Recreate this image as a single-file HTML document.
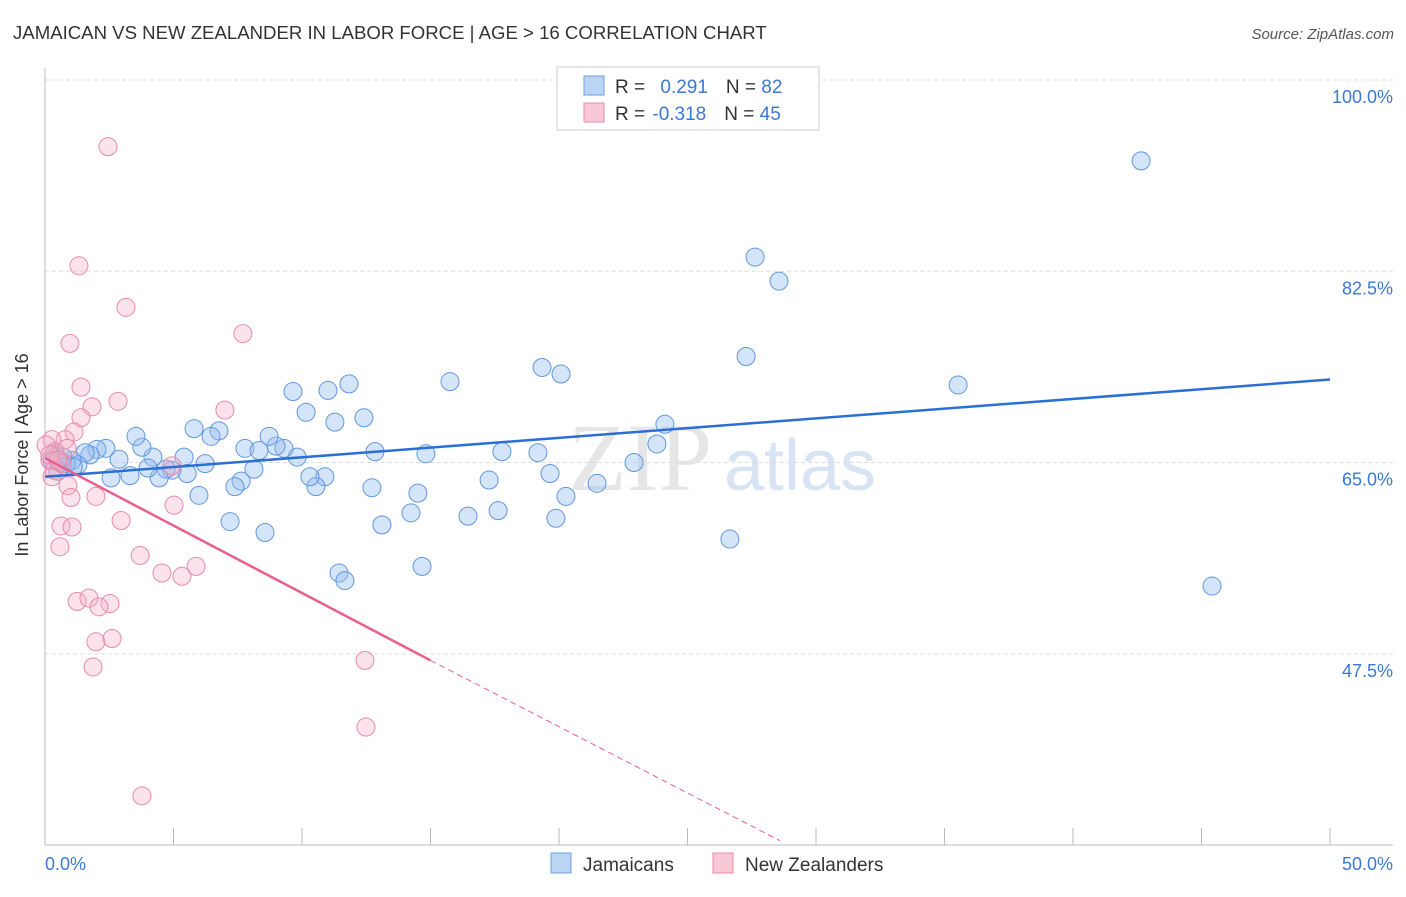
<!DOCTYPE html>
<html><head><meta charset="utf-8"><style>
body{margin:0;background:#fff;font-family:"Liberation Sans",sans-serif;}
</style></head><body>
<svg id="chart" width="1406" height="892" xmlns="http://www.w3.org/2000/svg" font-family="Liberation Sans, sans-serif">
<text x="13" y="39" font-size="18.6" fill="#333">JAMAICAN VS NEW ZEALANDER IN LABOR FORCE | AGE &gt; 16 CORRELATION CHART</text>
<text x="1394" y="39" font-size="15" fill="#555" font-style="italic" text-anchor="end">Source: ZipAtlas.com</text>
<text x="640" y="490" font-size="96" fill="#e6e6e6" font-family="Liberation Serif, serif" text-anchor="middle">ZIP</text>
<text x="800" y="490" font-size="72" fill="#d8e4f4" text-anchor="middle">atlas</text>
<g id="grid"></g>
<g id="axes"></g>
<g id="pts"></g>
<g id="lines"></g>
<text x="28" y="455" font-size="18" fill="#333" transform="rotate(-90 28 455)" text-anchor="middle">In Labor Force | Age &gt; 16</text>
<text x="45" y="870" font-size="18" fill="#3a78d4">0.0%</text>
<text x="1393" y="870" font-size="18" fill="#3a78d4" text-anchor="end">50.0%</text>
<g>
<rect x="557" y="67" width="262" height="63" fill="#fff" stroke="#ccc"/>
<rect x="584" y="76" width="20" height="19" fill="#bcd4f4" stroke="#6a9fe0"/>
<rect x="584" y="103" width="20" height="19" fill="#f8c8d6" stroke="#e88aa8"/>
<text x="615" y="93" font-size="19" fill="#333">R = <tspan fill="#3a78d4" dx="10">0.291</tspan><tspan dx="18">N = </tspan><tspan fill="#3a78d4">82</tspan></text>
<text x="615" y="120" font-size="19" fill="#333">R = <tspan fill="#3a78d4" dx="2">-0.318</tspan><tspan dx="18">N = </tspan><tspan fill="#3a78d4">45</tspan></text>
</g>
<g>
<rect x="551" y="853" width="20" height="20" fill="#bcd4f4" stroke="#6a9fe0"/>
<text x="583" y="871" font-size="19" fill="#333">Jamaicans</text>
<rect x="713" y="853" width="20" height="20" fill="#f8c8d6" stroke="#e88aa8"/>
<text x="745" y="871" font-size="19" fill="#333">New Zealanders</text>
</g>
</svg>
<script>
const yTicks=[100,82.5,65,47.5];
const xTicks=[0,5,10,15,20,25,30,35,40,45,50];
const blueX=[42.65,27.63,28.56,27.28,35.53,19.34,20.08,15.76,11.83,11.01,9.65,10.16,11.28,12.41,24.12,23.81,22.92,19.65,20.27,21.48,19.18,17.78,17.28,17.63,16.46,19.88,14.82,14.51,14.24,14.67,13.11,12.84,12.72,11.44,11.67,10.89,10.54,10.31,9.81,9.30,8.99,8.72,7.78,8.33,8.13,7.63,7.39,7.20,8.56,6.77,6.46,5.80,6.23,5.99,5.41,5.53,4.94,4.71,4.44,4.20,4.01,3.77,3.54,3.31,2.88,2.57,2.37,2.02,1.75,1.56,1.28,1.05,0.82,0.58,0.43,0.27,45.41,26.65,0.35,0.7,1.1,0.5];
const blueY=[92.6,83.8,81.6,74.7,72.1,73.7,73.1,72.4,72.2,71.6,71.5,69.6,68.7,69.1,68.5,66.7,65.0,64.0,61.9,63.1,65.9,66.0,63.4,60.6,60.1,59.9,65.8,62.2,60.4,55.5,59.3,66.0,62.7,54.9,54.2,63.7,62.8,63.7,65.5,66.3,66.5,67.4,66.3,66.1,64.4,63.3,62.8,59.6,58.6,67.9,67.4,68.1,64.9,62.0,65.5,64.0,64.3,64.4,63.6,65.5,64.5,66.4,67.4,63.8,65.3,63.6,66.3,66.2,65.7,65.9,64.8,65.2,64.9,65.0,65.6,65.2,53.7,58.0,65.8,65.5,64.6,64.2];
const pinkX=[2.45,1.32,3.15,7.70,0.97,1.40,2.84,1.83,7.00,1.40,1.13,0.78,0.86,0.27,0.39,0.19,0.35,0.27,0.66,0.89,1.01,1.98,0.62,1.05,2.96,0.58,3.70,5.88,4.55,5.33,1.25,1.71,2.53,2.10,1.98,2.61,1.87,12.45,12.49,3.77,5.02,4.94,0.04,0.19,0.51];
const pinkY=[93.9,83.0,79.2,76.8,75.9,71.9,70.6,70.1,69.8,69.1,67.8,67.1,66.3,67.1,66.0,65.2,64.3,63.7,64.9,62.9,61.8,61.9,59.2,59.1,59.7,57.3,56.5,55.5,54.9,54.6,52.3,52.6,52.1,51.8,48.6,48.9,46.3,46.9,40.8,34.5,61.1,64.7,66.6,65.7,65.2];
const blueTrendX=[0,50];
const blueTrendY=[63.7,72.6];
const pinkTrendX=[0,15,28.6];
const pinkTrendY=[65.4,46.9,30.4];
const NS='http://www.w3.org/2000/svg';
const X=v=>45+v*25.7;
const Y=v=>80+(100-v)*10.93;
function mk(tag,attrs,parent){const e=document.createElementNS(NS,tag);for(const k in attrs)e.setAttribute(k,attrs[k]);parent.appendChild(e);return e;}
const grid=document.getElementById('grid'),axes=document.getElementById('axes'),pts=document.getElementById('pts'),lines=document.getElementById('lines');
yTicks.forEach(t=>{
  const l=mk('line',{x1:45,x2:1393,y1:Y(t),y2:Y(t),stroke:'#ddd','stroke-dasharray':'4 3'},grid);
  
  
  const tx=mk('text',{x:1393,y:Y(t)+23,'font-size':18,fill:'#3a78d4','text-anchor':'end'},grid);
  tx.textContent=t.toFixed(1)+'%';
  
  
});
let a=mk('line',{x1:45,x2:45,y1:68,y2:845,stroke:'#bbb'},axes);


a=mk('line',{x1:45,x2:1393,y1:845,y2:845,stroke:'#bbb'},axes);


xTicks.forEach(t=>{
  const l=mk('line',{x1:X(t),x2:X(t),y1:828,y2:845,stroke:'#bbb'},axes);
  
  
});
blueX.forEach((v,i)=>{
  const c=mk('circle',{cx:X(v),cy:Y(blueY[i]),r:9,fill:'rgba(150,190,240,0.4)',stroke:'#5f97de','stroke-width':1},pts);
  
  
});
pinkX.forEach((v,i)=>{
  const c=mk('circle',{cx:X(v),cy:Y(pinkY[i]),r:9,fill:'rgba(245,175,198,0.35)',stroke:'#e88aa8','stroke-width':1},pts);
  
  
});
let t=mk('line',{x1:X(blueTrendX[0]),y1:Y(blueTrendY[0]),x2:X(blueTrendX[1]),y2:Y(blueTrendY[1]),stroke:'#2a6fd6','stroke-width':2.5},lines);


t=mk('line',{x1:X(pinkTrendX[0]),y1:Y(pinkTrendY[0]),x2:X(pinkTrendX[1]),y2:Y(pinkTrendY[1]),stroke:'#e8608e','stroke-width':2.5},lines);


t=mk('line',{x1:X(pinkTrendX[1]),y1:Y(pinkTrendY[1]),x2:X(pinkTrendX[2]),y2:Y(pinkTrendY[2]),stroke:'#e8608e','stroke-width':1,'stroke-dasharray':'6 4'},lines);


</script>
</body></html>
